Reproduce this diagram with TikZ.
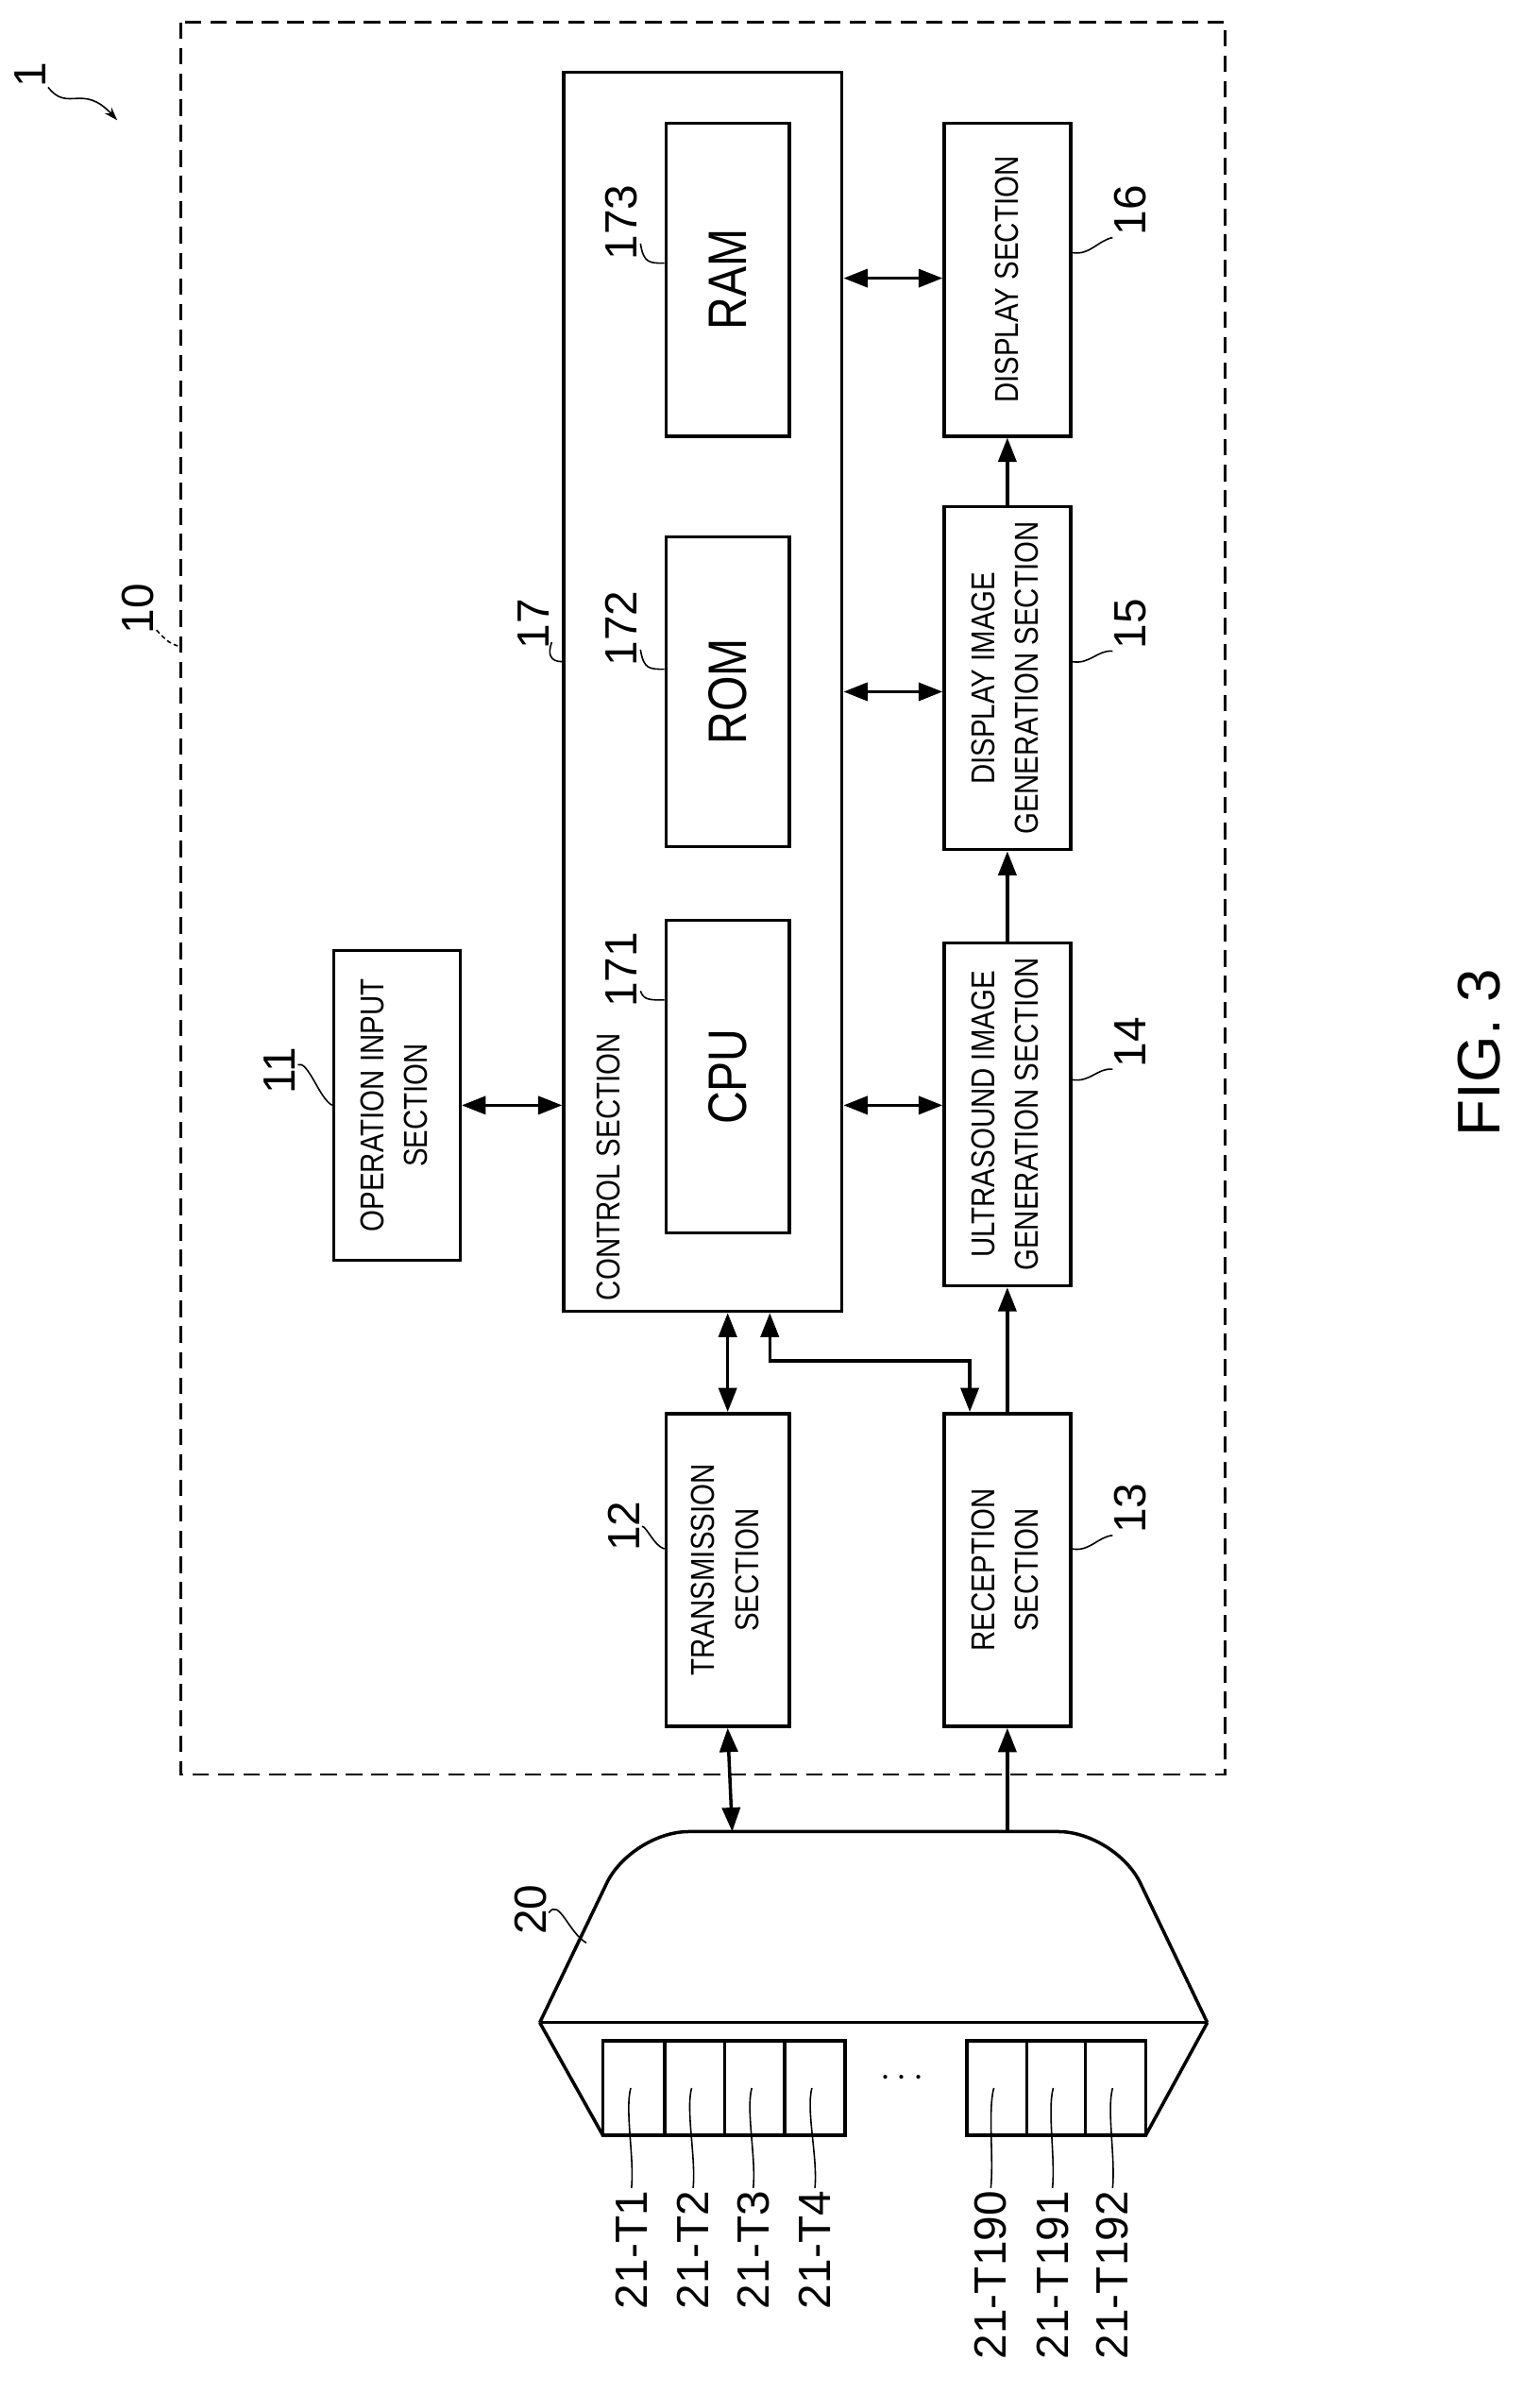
\documentclass[tikz,border=0pt]{standalone}
\usepackage{fontspec}
\setmainfont{Liberation Sans}
\usetikzlibrary{arrows.meta,calc}
\newcommand{\cnd}[1]{\scalebox{0.84}[1]{#1}}
\begin{document}
\begin{tikzpicture}[x=1pt,y=-1pt,line width=2.2pt,
  box/.style={draw,rectangle,inner sep=0pt,line width=2.2pt},
  btxt/.style={font=\fontsize{22}{29}\selectfont},
  big/.style={font=\fontsize{36}{40}\selectfont},
  num/.style={font=\fontsize{30}{32}\selectfont,rotate=90,inner sep=1pt},
  lead/.style={line width=1pt},
  arr/.style={-{Triangle[length=16pt,width=12pt]}},
  dbl/.style={{Triangle[length=16pt,width=12pt]}-{Triangle[length=16pt,width=12pt]}}]
\useasboundingbox (0,0) rectangle (1024,1592);
% outer dashed box
\draw[dash pattern=on 11pt off 6pt,line width=1.8pt] (120,15) rectangle (815,1180);
% control section
\node[box,minimum width=185pt,minimum height=824pt] (ctrl) at (467.5,460) {};
\node[btxt,rotate=90,anchor=center] (ctrltxt) at (405,776) {\cnd{CONTROL SECTION}};
\node[box,minimum width=82pt,minimum height=208pt,big] (cpu) at (484,716) {\rotatebox{90}{\cnd{CPU}}};
\node[box,minimum width=82pt,minimum height=206pt,big] (rom) at (484,460) {\rotatebox{90}{\cnd{ROM}}};
\node[box,minimum width=82pt,minimum height=208pt,big] (ram) at (484,186) {\rotatebox{90}{\cnd{RAM}}};
\node[box,minimum width=84pt,minimum height=206pt,btxt] (op) at (264,735) {\rotatebox{90}{\cnd{\begin{tabular}{c}OPERATION INPUT\\SECTION\end{tabular}}}};
\node[box,minimum width=82pt,minimum height=208pt,btxt] (tx) at (484,1044) {\rotatebox{90}{\cnd{\begin{tabular}{c}TRANSMISSION\\SECTION\end{tabular}}}};
\node[box,minimum width=84pt,minimum height=208pt,btxt] (rx) at (670,1044) {\rotatebox{90}{\cnd{\begin{tabular}{c}RECEPTION\\SECTION\end{tabular}}}};
\node[box,minimum width=84pt,minimum height=228pt,btxt] (us) at (670,741) {\rotatebox{90}{\cnd{\begin{tabular}{c}ULTRASOUND IMAGE\\GENERATION SECTION\end{tabular}}}};
\node[box,minimum width=84pt,minimum height=228pt,btxt] (dig) at (670,451) {\rotatebox{90}{\cnd{\begin{tabular}{c}DISPLAY IMAGE\\GENERATION SECTION\end{tabular}}}};
\node[box,minimum width=84pt,minimum height=208pt,btxt] (ds) at (670,186) {\rotatebox{90}{\cnd{DISPLAY SECTION}}};
% connectors
\draw[dbl] (op.east |- 0,735) -- (ctrl.west |- 0,735);
\draw[dbl] (ctrl.east |- 0,735) -- (us.west |- 0,735);
\draw[dbl] (ctrl.east |- 0,460) -- (dig.west |- 0,460);
\draw[dbl] (ctrl.east |- 0,185) -- (ds.west |- 0,185);
\draw[arr] (rx.north) -- (us.south);
\draw[arr] (us.north) -- (dig.south);
\draw[arr] (dig.north) -- (ds.south);
\draw[dbl] (ctrl.south -| tx.north) -- (tx.north);
\coordinate (k1) at (512,905);
\coordinate (k2) at (645,905);
\draw[dbl] (ctrl.south -| k1) -- (k1) -- (k2) -- (k2 |- rx.north);
% probe
\coordinate (pl) at (359,1345);
\coordinate (pr) at (803,1345);
\coordinate (tin) at (487,1218);
\coordinate (rin) at (670,1218);
\draw[line join=round] (pl) [rounded corners=38pt] -- (420,1218) -- (742,1218) [sharp corners] -- (pr);
\draw (pl) -- (pr);
\draw (pl) -- (401,1420);
\draw (pr) -- (762,1420);
\draw[dbl] (tx.south) -- (tin);
\draw[arr] (rin) -- (rx.south);
\foreach \a/\b/\n in {401/442/e1,442/482/e2,482/522/e3,522/562/e4,643/683/e190,683/722/e191,722/762/e192}
  \node[box,minimum width=\b pt-\a pt,minimum height=63pt] (\n) at ({(\a+\b)/2},1388.5) {};
\node[font=\fontsize{36}{36}\selectfont] (dots) at (600,1382) {$\cdots$};
% element labels
\foreach \n/\x/\t in {e1/420/21-T1,e2/461/21-T2,e3/501/21-T3,e4/542/21-T4,e190/659/21-T190,e191/700/21-T191,e192/740/21-T192}{
  \node[num,anchor=east] (l\n) at (\x,1455) {\t};
  \draw[lead] (l\n.east) .. controls ++(2,-20) and ++(-4,15) .. ([xshift=-2pt]\n.center);
}
% reference numerals
\node[num] (n1) at (20,50) {1};
\draw[lead,-{Stealth[length=9pt,width=6pt]}] ($(n1.center)+(12,8)$) .. controls (45,75) and (55,55) .. (78,80);
\node[num] (n10) at (92,405) {10};
\draw[lead,dash pattern=on 3pt off 2pt] ($(n10.center)+(12,14)$) .. controls (110,425) and (112,428) .. (120,430);
\node[num] (n17) at (355,415) {17};
\draw[lead] ($(n17.center)+(12,12)$) .. controls (364,435) and (366,440) .. (ctrl.west |- 0,440);
\node[num] (n171) at (413,645) {171};
\draw[lead] ($(n171.center)+(13,14)$) .. controls (428,665) and (432,665) .. (cpu.west |- 0,665);
\node[num] (n172) at (413,418) {172};
\draw[lead] ($(n172.center)+(13,14)$) .. controls (428,445) and (432,445) .. (rom.west |- 0,445);
\node[num] (n173) at (413,148) {173};
\draw[lead] ($(n173.center)+(13,14)$) .. controls (428,175) and (432,175) .. (ram.west |- 0,175);
\node[num] (n11) at (186,712) {11};
\draw[lead] ($(n11.center)+(12,-4)$) .. controls (205,705) and (212,730) .. (op.west |- 0,735);
\node[num] (n12) at (415,1015) {12};
\draw[lead] ($(n12.center)+(12,0)$) .. controls (430,1015) and (435,1028) .. (tx.west |- 0,1030);
\node[num] (n20) at (353,1270) {20};
\draw[lead] ($(n20.center)+(12,2)$) .. controls (372,1262) and (378,1285) .. (390,1292);
\node[num] (n13) at (752,1003) {13};
\draw[lead] (rx.east |- 0,1030) .. controls (725,1032) and (730,1022) .. ($(n13.center)+(-12,18)$);
\node[num] (n14) at (752,693) {14};
\draw[lead] (us.east |- 0,718) .. controls (725,720) and (730,710) .. ($(n14.center)+(-12,18)$);
\node[num] (n15) at (752,415) {15};
\draw[lead] (dig.east |- 0,440) .. controls (725,442) and (730,432) .. ($(n15.center)+(-12,18)$);
\node[num] (n16) at (752,140) {16};
\draw[lead] (ds.east |- 0,168) .. controls (725,170) and (730,160) .. ($(n16.center)+(-12,18)$);
\node[font=\fontsize{40}{44}\selectfont,rotate=90] (fig) at (984,700) {FIG. 3};
\end{tikzpicture}
\end{document}
